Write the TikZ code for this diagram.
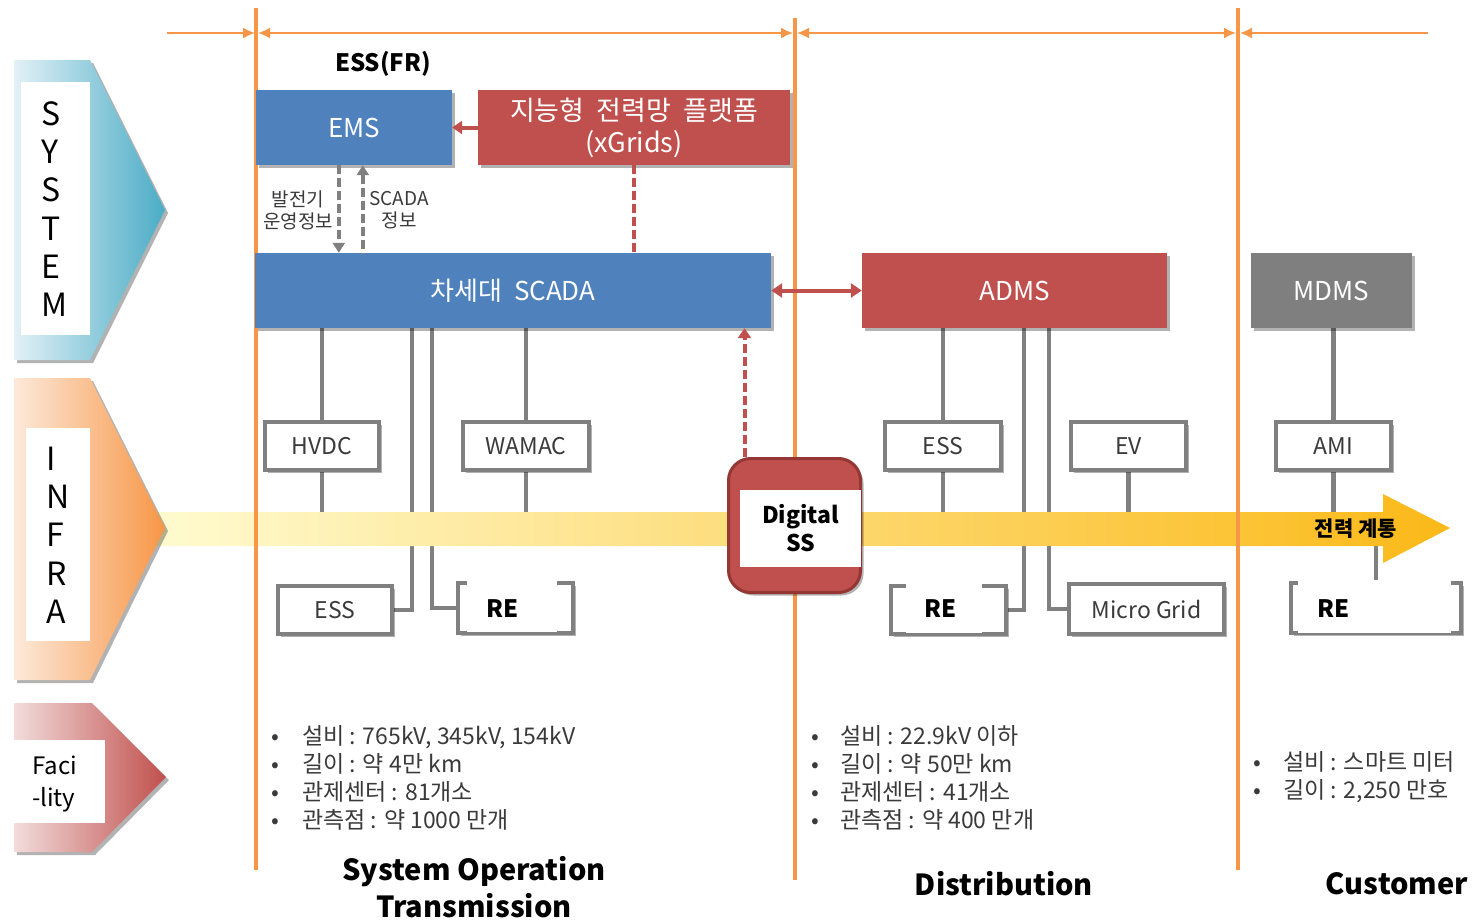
\documentclass[tikz,border=0pt]{standalone}
\usepackage{fontspec}
\setmainfont{Noto Sans CJK KR}
\usetikzlibrary{calc,arrows.meta,shadows}

\pgfdeclarelayer{hinten}
\pgfsetlayers{hinten,main}

\definecolor{emsblau}{HTML}{4F81BD}
\definecolor{gridrot}{HTML}{C0504D}
\definecolor{ssrand}{HTML}{943634}
\definecolor{mdmsgrau}{HTML}{7F7F7F}
\definecolor{liniengrau}{HTML}{808080}
\definecolor{schriftgrau}{HTML}{3A3A3A}
\definecolor{grenzorange}{HTML}{F79646}
\definecolor{systemhell}{HTML}{E2F1F6}
\definecolor{systemdunkel}{HTML}{4BACC6}
\definecolor{infrahell}{HTML}{FDE9DA}
\definecolor{infradunkel}{HTML}{F79646}
\definecolor{facihell}{HTML}{F2DCDB}
\definecolor{facidunkel}{HTML}{C0504D}
\definecolor{bandhell}{HTML}{FFFBD0}
\definecolor{bandmitte}{HTML}{FFE7A0}
\definecolor{banddunkel}{HTML}{FBB918}

\begin{document}
\begin{tikzpicture}[x=1pt,y=-1pt,
  schatten/.style={drop shadow={shadow xshift=3pt,shadow yshift=-3pt,opacity=0.3,fill=black}},
  grossbox/.style={schatten,minimum height=75pt,inner sep=0pt,text=white,font=\fontsize{26}{31}\selectfont},
  kleinbox/.style={schatten,draw=liniengrau,line width=4pt,fill=white,minimum height=48pt,inner sep=0pt,text=schriftgrau,font=\fontsize{23}{27}\selectfont},
  refeld/.style={fill=white,inner sep=0pt},
  fett/.style={inner sep=0pt,font=\bfseries\fontsize{24}{28}\selectfont},
  verbindung/.style={liniengrau,line width=4.5pt},
  grenze/.style={grenzorange,line width=4pt},
  masslinie/.style={grenzorange,line width=2pt},
  rotpfeil/.style={gridrot,line width=4pt},
  graustrich/.style={liniengrau,line width=4pt,dash pattern=on 9pt off 4pt},
  rotstrich/.style={gridrot,line width=4pt,dash pattern=on 9pt off 4pt},
  kleintext/.style={inner sep=0pt,align=center,text=schriftgrau,font=\fontsize{19}{22}\selectfont},
  liste/.style={anchor=west,inner sep=0pt,align=left,text=schriftgrau,font=\fontsize{23}{28}\selectfont},
  titel/.style={inner sep=0pt,align=center,font=\bfseries\fontsize{29}{37}\selectfont},
  buchstaben/.style={anchor=west,inner sep=0pt,align=left,font=\fontsize{32}{38.3}\selectfont}]

\useasboundingbox (0,0) rectangle (1484,921);
\coordinate (band) at (0,528);

%ENERGIEBAND (hinter allem)
\shade[left color=bandhell,middle color=bandmitte,right color=banddunkel] (150,512) -- (1383,512) -- (1383,494) -- (1450,528) -- (1383,563) -- (1383,546) -- (150,546) -- cycle;
\node[inner sep=0pt,font=\bfseries\fontsize{21}{25}\selectfont] (netz) at (1356,529) {전력 계통};




%PFEIL NR. 0 (SYSTEM)
\shade[schatten,left color=systemhell,right color=systemdunkel] (14,60) -- (90,60) -- (165,210) -- (90,360) -- (14,360) -- cycle;
\fill[white] (21,82) rectangle (90,335);
\node[buchstaben] (system) at (41,209) {S\\Y\\S\\T\\E\\M};

%PFEIL NR. 1 (INFRA)
\shade[schatten,left color=infrahell,right color=infradunkel] (14,378) -- (90,378) -- (165,528) -- (90,680) -- (14,680) -- cycle;
\fill[white] (26,428) rectangle (90,641);
\node[buchstaben] (infra) at (46,535) {I\\N\\F\\R\\A};

%PFEIL NR. 2 (FACILITY)
\shade[schatten,left color=facihell,right color=facidunkel] (14,703) -- (92,703) -- (166,777) -- (92,852) -- (14,852) -- cycle;
\fill[white] (14,740) rectangle (105,823);
\node[anchor=west,inner sep=0pt,align=left,font=\fontsize{24}{32}\selectfont] (faci) at (32,784) {Faci\\-lity};




%GRENZEN
\draw[grenze] (256,8) -- (256,870);
\draw[grenze] (795,18) -- (795,880);
\draw[grenze] (1238,8) -- (1238,870);
\draw[masslinie,-{Latex[length=12pt,width=11pt]}] (167,33) -- (255,33);
\draw[masslinie,{Latex[length=12pt,width=11pt]}-{Latex[length=12pt,width=11pt]}] (258,33) -- (793,33);
\draw[masslinie,{Latex[length=12pt,width=11pt]}-{Latex[length=12pt,width=11pt]}] (797,33) -- (1236,33);
\draw[masslinie,{Latex[length=12pt,width=11pt]}-] (1240,33) -- (1428,33);




%SPALTE NR. 0 (Transmission)
\node[fett] (essfr) at (383,64) {ESS(FR)};
\node[grossbox,fill=emsblau,minimum width=196pt] (ems) at (354,127.5) {EMS};
\node[grossbox,fill=gridrot,minimum width=312pt,align=center,font=\fontsize{27}{32}\selectfont] (xgrids) at (634,127.5) {지능형\ \ 전력망\ \ 플랫폼\\(xGrids)};
\node[grossbox,fill=emsblau,minimum width=516pt] (scada) at (513,290.5) {차세대\ \ SCADA};

\node[kleintext] (betrieb) at (298,210) {발전기\\운영정보};
\node[kleintext] (scadainfo) at (399,210) {SCADA\\정보};

\node[kleinbox,minimum width=114pt] (hvdc) at (322,446) {HVDC};
\node[kleinbox,minimum width=126pt] (wamac) at (526,446) {WAMAC};
\node[kleinbox,minimum width=114pt] (essA) at (335,610) {ESS};
\node[kleinbox,minimum width=115pt,minimum height=50pt] (reA) at (515.5,608) {};
\node[refeld,minimum width=90pt,minimum height=52pt] (reAfeld) at (512,606) {};
\node[fett] (reAtext) at (503,609) {RE};

%SPALTE NR. 1 (Distribution)
\node[grossbox,fill=gridrot,minimum width=305pt] (adms) at (1014.5,290.5) {ADMS};
\node[kleinbox,minimum width=116pt] (essB) at (943,446) {ESS};
\node[kleinbox,minimum width=115pt] (ev) at (1128.5,446) {EV};
\node[kleinbox,minimum width=115pt] (reB) at (948.5,610) {};
\node[refeld,minimum width=76pt,minimum height=50pt] (reBfeld) at (944,608) {};
\node[fett] (reBtext) at (941,609) {RE};
\node[kleinbox,minimum width=155pt,minimum height=50pt] (micro) at (1146.5,609) {Micro Grid};

%SPALTE NR. 2 (Customer)
\node[grossbox,fill=mdmsgrau,minimum width=161pt] (mdms) at (1331.5,290.5) {MDMS};
\node[kleinbox,minimum width=115pt] (ami) at (1333.5,446) {AMI};
\node[kleinbox,minimum width=170pt,minimum height=50pt] (reC) at (1376,608) {};
\node[refeld,minimum width=153pt,minimum height=53pt] (reCfeld) at (1374.5,606.5) {};
\node[fett] (reCtext) at (1334,609) {RE};

%DIGITAL SS
\node[schatten,draw=ssrand,line width=3pt,fill=gridrot,rounded corners=22pt,minimum width=132pt,minimum height=134pt,inner sep=0pt] (dss) at (794.5,525.5) {};
\node[refeld,minimum width=121pt,minimum height=77pt,align=center,font=\bfseries\fontsize{23}{28}\selectfont] (dsstext) at (800.5,528) {Digital\\SS};




%VERBINDUNGEN
\begin{pgfonlayer}{hinten}
\draw[verbindung] (scada.south -| hvdc.north) -- (hvdc.north);
\draw[verbindung] (hvdc.south) -- (hvdc.south |- band);
\draw[verbindung] (essA.east) -| ($(scada.south west)+(157,0)$);
\draw[verbindung] (reA.west) -| ($(scada.south west)+(177,0)$);
\draw[verbindung] (scada.south -| wamac.north) -- (wamac.north);
\draw[verbindung] (wamac.south) -- (wamac.south |- band);
\draw[verbindung] (adms.south -| essB.north) -- (essB.north);
\draw[verbindung] (essB.south) -- (essB.south |- band);
\draw[verbindung] (reB.east) -| ($(adms.south west)+(162,0)$);
\draw[verbindung] (micro.west) -| ($(adms.south west)+(187,0)$);
\draw[verbindung] (ev.south) -- (ev.south |- band);
\draw[verbindung] (mdms.south -| ami.north) -- (ami.north);
\draw[verbindung] (ami.south) -- (ami.south |- band);
\draw[verbindung] (reC.north) -- (reC.north |- band);
\end{pgfonlayer}

\draw[rotpfeil,-{Triangle[length=10pt,width=13pt]}] (xgrids.west) -- (ems.east);
\draw[rotpfeil,{Triangle[length=11pt,width=14pt]}-{Triangle[length=11pt,width=14pt]}] (scada.east) -- (adms.west);
\draw[rotstrich] (xgrids.south) -- (xgrids.south |- scada.north);

\coordinate (emsab) at ($(ems.south west)+(83,0)$);
\coordinate (emsauf) at ($(ems.south west)+(107,0)$);
\draw[graustrich,-{Triangle[length=10pt,width=12pt]}] (emsab) -- (emsab |- scada.north);
\draw[graustrich,{Triangle[length=10pt,width=12pt]}-] (emsauf) -- (emsauf |- scada.north);

\coordinate (dssauf) at ($(dss.north west)+(17.5,0)$);
\draw[rotstrich,-{Triangle[length=10pt,width=13pt]}] (dssauf) -- (dssauf |- scada.south);




%TEXTE UNTEN
\node[liste] (listeA) at (271,778) {\makebox[31pt][l]{•}설비 : 765kV, 345kV, 154kV\\\makebox[31pt][l]{•}길이 : 약 4만 km\\\makebox[31pt][l]{•}관제센터 : 81개소\\\makebox[31pt][l]{•}관측점 : 약 1000 만개};
\node[liste] (listeB) at (811,778) {\makebox[29pt][l]{•}설비 : 22.9kV 이하\\\makebox[29pt][l]{•}길이 : 약 50만 km\\\makebox[29pt][l]{•}관제센터 : 41개소\\\makebox[29pt][l]{•}관측점 : 약 400 만개};
\node[liste] (listeC) at (1253,777) {\makebox[30pt][l]{•}설비 : 스마트 미터\\\makebox[30pt][l]{•}길이 : 2,250 만호};

\node[titel] (trans) at (474,887.5) {System Operation\\Transmission};
\node[titel] (dist) at (1004,884) {Distribution};
\node[titel] (kunde) at (1397,884) {Customer};

\end{tikzpicture}
\end{document}
